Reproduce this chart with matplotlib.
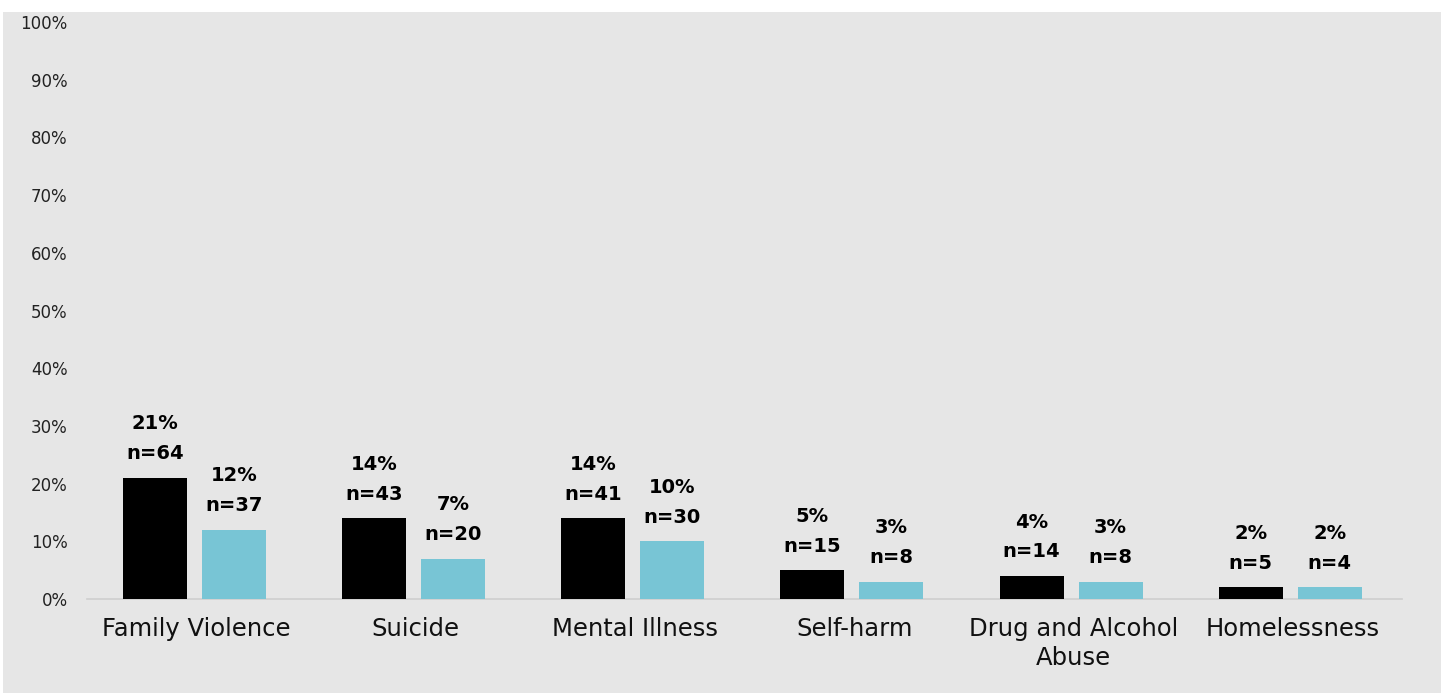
import numpy as np
import matplotlib.pyplot as plt
from matplotlib.patches import Rectangle

categories = ["Family Violence", "Suicide", "Mental Illness", "Self-harm",
              "Drug and Alcohol\nAbuse", "Homelessness"]
pct_a = [21, 14, 14, 5, 4, 2]
n_a = [64, 43, 41, 15, 14, 5]
pct_b = [12, 7, 10, 3, 3, 2]
n_b = [37, 20, 30, 8, 8, 4]
yticks = list(range(0, 101, 10))

bg = "#e6e6e6"
blue = "#78c5d5"

plt.rcParams['font.family'] = ['DejaVu Sans']

fig = plt.figure(figsize=(14.41, 6.93), dpi=100, facecolor="white")
# grey chart area (white strip at the top edge)
fig.patches.append(Rectangle((3 / 1441, 0), 1, 681 / 693, transform=fig.transFigure,
                             facecolor=bg, edgecolor="none", zorder=-10))
ax = fig.add_axes([87 / 1441, 94 / 693, 1315 / 1441, 577 / 693])
ax.set_facecolor(bg)

x = np.arange(len(categories))
w = 0.292
off = 0.18
bars_a = ax.bar(x - off - 0.01, pct_a, w, color="black", zorder=3)
bars_b = ax.bar(x + off - 0.01, pct_b, w, color=blue, zorder=3)

for bars, pcts, ns in [(bars_a, pct_a, n_a), (bars_b, pct_b, n_b)]:
    for b, p, n in zip(bars, pcts, ns):
        ax.annotate(f"{p}%\nn={n}", (b.get_x() + b.get_width() / 2, b.get_height()),
                    xytext=(0, 10.5), textcoords="offset points", ha="center", va="bottom",
                    fontsize=14, fontweight="bold", linespacing=1.72, color="black")

ax.set_xlim(-0.5, len(categories) - 0.5)
ax.set_ylim(0, 100)
ax.set_yticks(yticks)
ax.set_yticklabels([f"{t}%" for t in yticks], fontsize=12, color="#222222")
ax.set_xticks(x)
ax.set_xticklabels(categories, fontsize=17.5, color="#111111", linespacing=1.25)
ax.tick_params(axis="both", length=0)
ax.tick_params(axis="y", pad=14)
ax.tick_params(axis="x", pad=13)

for s in ["top", "right", "left"]:
    ax.spines[s].set_visible(False)
ax.spines["bottom"].set_color("#cfcfcf")
ax.spines["bottom"].set_linewidth(1.2)

fig.savefig("out.png", dpi=100, facecolor="white")
